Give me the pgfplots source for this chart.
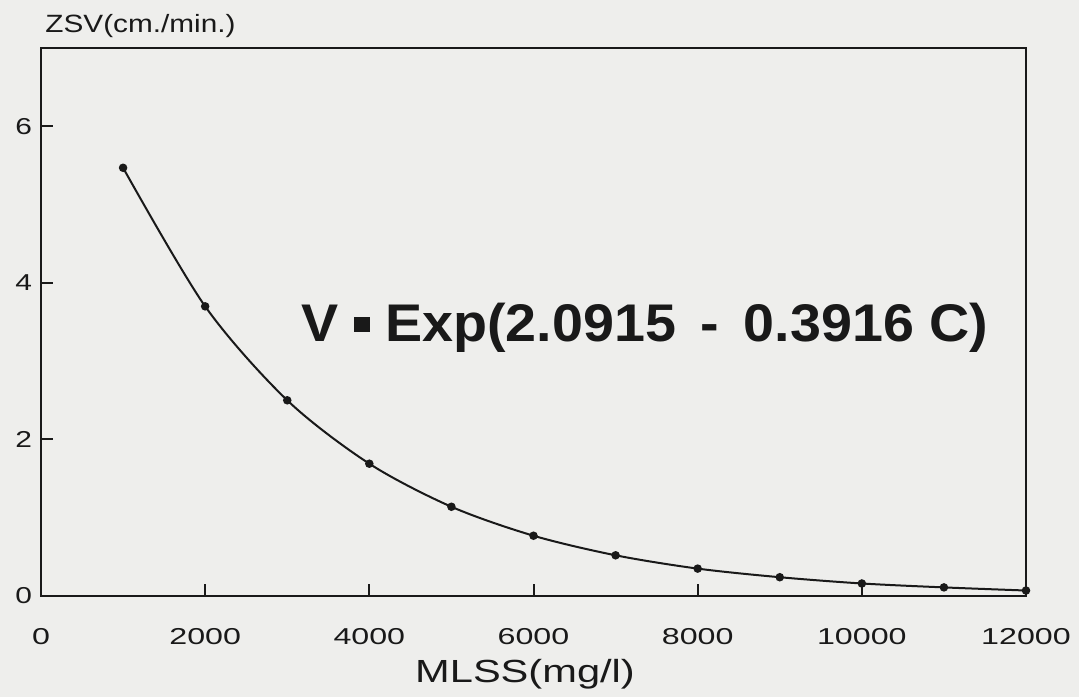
\documentclass[border=0pt]{standalone}
\usepackage{pgfplots}
\pgfplotsset{compat=1.18}
\usepackage{graphicx}
\usepackage{fontspec}
\setmainfont{Liberation Sans}
\definecolor{paper}{RGB}{238,238,236}
\definecolor{ink}{RGB}{25,25,25}
\begin{document}
\begin{tikzpicture}
\path[use as bounding box, fill=paper] (0,0) rectangle (539.5pt,348.5pt);
\begin{axis}[
  at={(20.5pt,50.5pt)}, anchor=south west,
  scale only axis, width=492.5pt, height=274pt,
  xmin=0, xmax=12000, ymin=0, ymax=7,
  xtick={0,2000,...,12000}, ytick={0,2,4,6},
  scaled x ticks=false,
  /pgf/number format/assume math mode=true,
  /pgf/number format/1000 sep={},
  xticklabel={\scalebox{1.4}[1]{\pgfmathprintnumber{\tick}}},
  yticklabel={\scalebox{1.3}[1]{\pgfmathprintnumber{\tick}}},
  tick align=inside, major tick length=6pt,
  xtick pos=bottom, ytick pos=left,
  axis line style={line width=1.4pt, ink},
  tick style={line width=1pt, ink},
  every tick label/.append style={font=\fontsize{11.5}{13}\selectfont, text=ink},
  xticklabel style={anchor=base, yshift=-24pt},
  yticklabel style={xshift=-1pt},
  clip=false,
]
\addplot[ink, line width=1pt, smooth, mark=*, mark size=1.6pt] coordinates {
(1000,5.47) (2000,3.70) (3000,2.50) (4000,1.69) (5000,1.14) (6000,0.77)
(7000,0.52) (8000,0.35) (9000,0.24) (10000,0.16) (11000,0.11) (12000,0.07)
};
\end{axis}
\node[anchor=base, text=ink, font=\bfseries\fontsize{26.5}{30}\selectfont] at (322.5pt,178pt)
  {\scalebox{1.05}[1]{V {\raisebox{0.17em}{\rule{0.28em}{0.28em}}} Exp(2.0915 \,-\, 0.3916 C)}};
\node[anchor=base, text=ink, font=\fontsize{16}{18}\selectfont] at (262.5pt,7.5pt) {\scalebox{1.3}[1]{MLSS(mg/l)}};
\node[anchor=base west, inner sep=0pt, text=ink, font=\fontsize{12.5}{14}\selectfont] at (22.5pt,332pt) {\scalebox{1.19}[1]{ZSV(cm./min.)}};
\end{tikzpicture}
\end{document}
